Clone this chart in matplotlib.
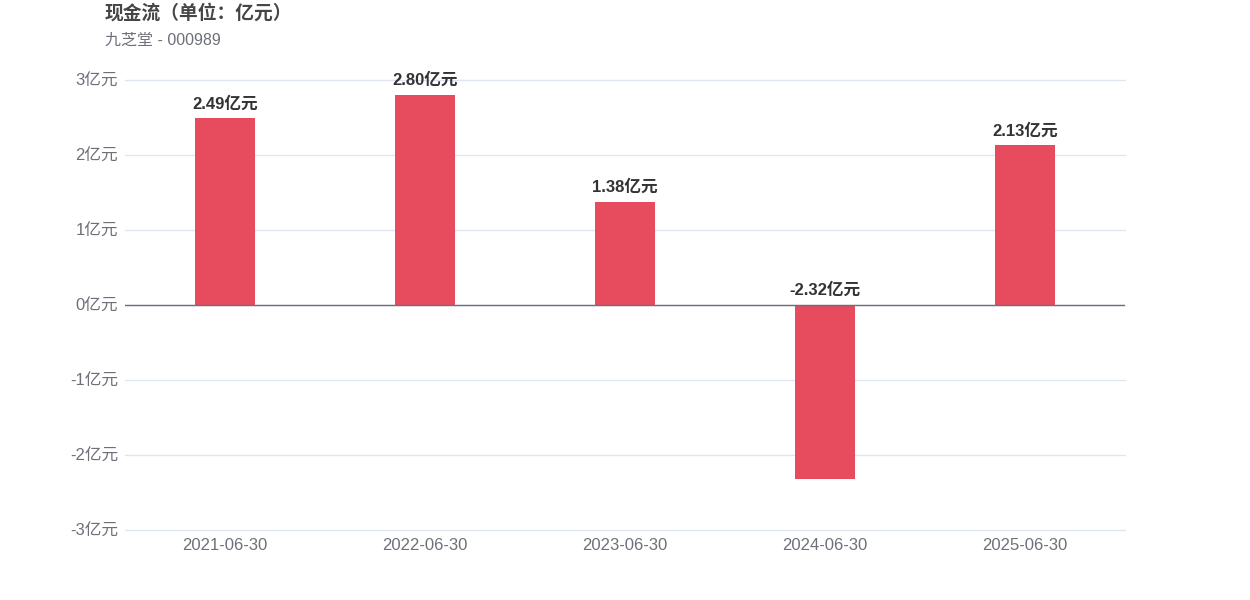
import matplotlib
matplotlib.use("Agg")
import matplotlib.pyplot as plt

categories = ["2021-06-30", "2022-06-30", "2023-06-30", "2024-06-30", "2025-06-30"]
values = [2.49, 2.80, 1.38, -2.32, 2.13]
yticks = [-3, -2, -1, 0, 1, 2, 3]
ytick_labels = ["-3亿元", "-2亿元", "-1亿元", "0亿元", "1亿元", "2亿元", "3亿元"]
title = "现金流（单位：亿元）"
subtitle = "九芝堂 - 000989"

plt.rcParams['font.family'] = ['Liberation Sans', 'Noto Sans CJK SC', 'DejaVu Sans']

fig = plt.figure(figsize=(12.5, 6), dpi=100)
ax = fig.add_axes([0.1, 1 - 530 / 600, 0.8, 450 / 600])

x = list(range(len(categories)))
ax.bar(x, values, width=0.3, color="#E64B5E", zorder=3)
ax.set_xlim(-0.5, len(categories) - 0.5)
ax.set_ylim(-3, 3)
ax.set_yticks(yticks)
ax.set_yticklabels(ytick_labels)
ax.set_xticks(x)
ax.set_xticklabels(categories)
ax.tick_params(axis='both', length=0, labelsize=12, labelcolor="#6E7079")
ax.tick_params(axis='y', pad=5)
ax.tick_params(axis='x', pad=6)
for s in ax.spines.values():
    s.set_visible(False)
ax.grid(axis='y', color="#E0E6F1", linewidth=1, zorder=0)
for gl in ax.get_ygridlines():
    gl.set_clip_on(False)
ax.axhline(0, color="#6E7079", linewidth=1, zorder=4)

for xi, v in zip(x, values):
    ax.annotate(f"{v:.2f}亿元", (xi, max(v, 0)), xytext=(0, 5), textcoords="offset points",
                ha="center", va="bottom", fontsize=12, fontweight="bold", color="#333333")

fig.text(105 / 1250, 1 - 13 / 600, title, fontsize=13.5, fontweight="bold", color="#464646",
         ha="left", va="center")
fig.text(105 / 1250, 1 - 40 / 600, subtitle, fontsize=11.5, color="#6E7079", ha="left", va="center")

fig.savefig("out.png", dpi=100, facecolor="white")
